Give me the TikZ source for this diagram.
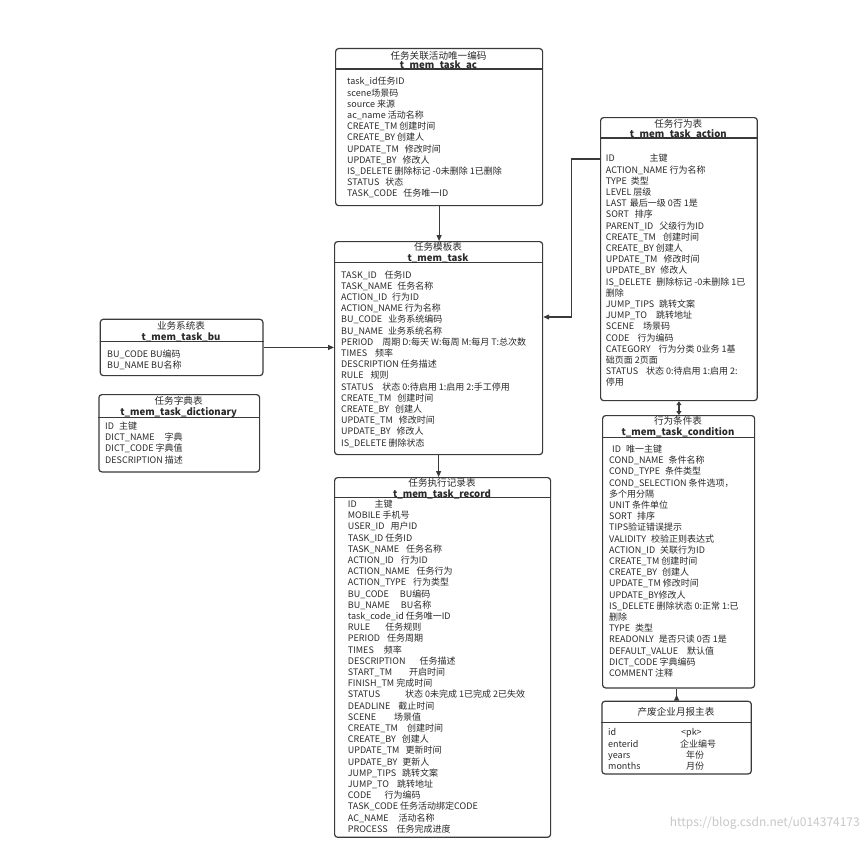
\documentclass[tikz,border=0pt]{standalone}
\usepackage{fontspec}
\setmainfont{Noto Sans CJK SC}
\usetikzlibrary{arrows.meta}
\definecolor{boxc}{HTML}{3A3A3A}
\definecolor{txt}{HTML}{2A2A2A}
\definecolor{wm}{HTML}{C8C8C8}
\newcommand\gp[1]{\hspace*{#1pt}}
\newcommand\fs{\rule{0pt}{8pt}}
\tikzset{
  tbl/.style={draw=boxc, line width=1.2pt, rounded corners=3pt, fill=white, inner sep=0pt, anchor=north west},
  sepl/.style={draw=boxc, line width=1.2pt},
  ttl/.style={font=\fontsize{9.6}{10}\selectfont, text=txt, inner sep=0pt, anchor=base},
  ttlb/.style={font=\fontsize{9.6}{10}\selectfont\bfseries, text=txt, inner sep=0pt, anchor=base},
  bodytxt/.style={font=\fontsize{9}{11.2}\selectfont, text=txt, align=left, inner sep=0pt, anchor=north west},
  conn/.style={draw=boxc, line width=1.2pt, -{Triangle[length=6pt,width=5pt]}},
  conn2/.style={draw=boxc, line width=1.2pt, {Triangle[length=4pt,width=5pt]}-{Triangle[length=4pt,width=5pt]}},
  connr/.style={draw=boxc, line width=1.2pt, {Triangle[reversed,length=6pt,width=5pt]}-}
}
\begin{document}
\begin{tikzpicture}[x=1pt,y=-1pt]
\fill[white] (0,0) rectangle (868,843);
\useasboundingbox (0,0) rectangle (868,843);

% ---- task_ac
\node[tbl, minimum width=207pt, minimum height=157pt] (ac) at (335,48) {};
\draw[sepl] (ac.west |- 0,69) -- (ac.east |- 0,69);
\node[ttl] (ac-t1) at (438.5,59.2) {任务关联活动唯一编码};
\node[ttlb] (ac-t2) at (438.5,68.2) {t\_mem\_task\_ac};
\node[bodytxt] (ac-b) at (347,76.6) {\fs task\_id任务ID\\
scene场景码\\
source 来源\\
ac\_name 活动名称\\
CREATE\_TM 创建时间\\
CREATE\_BY 创建人\\
UPDATE\_TM\gp{6}修改时间\\
UPDATE\_BY\gp{6}修改人\\
IS\_DELETE 删除标记 -0未删除 1已删除\\
STATUS\gp{6}状态\\
TASK\_CODE\gp{6}任务唯一ID};

% ---- task
\node[tbl, minimum width=208pt, minimum height=213pt] (task) at (334,241) {};
\draw[sepl] (task.west |- 0,262.7) -- (task.east |- 0,262.7);
\node[ttl] (task-t1) at (438,250.2) {任务模板表};
\node[ttlb] (task-t2) at (438,261.2) {t\_mem\_task};
\node[bodytxt] (task-b) at (341,269.9) {\fs TASK\_ID\gp{8}任务ID\\
TASK\_NAME\gp{5}任务名称\\
ACTION\_ID\gp{5}行为ID\\
ACTION\_NAME 行为名称\\
BU\_CODE\gp{6}业务系统编码\\
BU\_NAME\gp{5}业务系统名称\\
PERIOD\gp{9}周期 D:每天 W:每周 M:每月 T:总次数\\
TIMES\gp{8}频率\\
DESCRIPTION 任务描述\\
RULE\gp{7}规则\\
STATUS\gp{9}状态 0:待启用 1:启用 2:手工停用\\
CREATE\_TM\gp{6}创建时间\\
CREATE\_BY\gp{6}创建人\\
UPDATE\_TM\gp{6}修改时间\\
UPDATE\_BY\gp{6}修改人\\
IS\_DELETE 删除状态};

% ---- bu
\node[tbl, minimum width=162.6pt, minimum height=56.3pt] (bu) at (99.7,318.7) {};
\draw[sepl] (bu.west |- 0,341.7) -- (bu.east |- 0,341.7);
\node[ttl] (bu-t1) at (181,329.8) {业务系统表};
\node[ttlb] (bu-t2) at (181,340.2) {t\_mem\_task\_bu};
\node[bodytxt] (bu-b) at (107,348.9) {\fs BU\_CODE BU编码\\
BU\_NAME BU名称};

% ---- dictionary
\node[tbl, minimum width=160.7pt, minimum height=77.3pt] (dict) at (98.3,394) {};
\draw[sepl] (dict.west |- 0,417.3) -- (dict.east |- 0,417.3);
\node[ttl] (dict-t1) at (178.6,404.8) {任务字典表};
\node[ttlb] (dict-t2) at (178.6,415.2) {t\_mem\_task\_dictionary};
\node[bodytxt] (dict-b) at (105,421.2) {\fs ID\gp{5}主键\\
DICT\_NAME\gp{10}字典\\
DICT\_CODE 字典值\\
DESCRIPTION 描述};

% ---- record
\node[tbl, minimum width=216pt, minimum height=359.7pt] (record) at (334,477) {};
\draw[sepl] (record.west |- 0,497.7) -- (record.east |- 0,497.7);
\node[ttl] (rec-t1) at (442,486.5) {任务执行记录表};
\node[ttlb] (rec-t2) at (442,497.2) {t\_mem\_task\_record};
\node[bodytxt] (rec-b) at (347.7,499.2) {\fs ID\gp{18}主键\\
MOBILE 手机号\\
USER\_ID\gp{6}用户ID\\
TASK\_ID 任务ID\\
TASK\_NAME\gp{7}任务名称\\
ACTION\_ID\gp{7}行为ID\\
ACTION\_NAME\gp{7}任务行为\\
ACTION\_TYPE\gp{7}行为类型\\
BU\_CODE\gp{11}BU编码\\
BU\_NAME\gp{11}BU名称\\
task\_code\_id 任务唯一ID\\
RULE\gp{15}任务规则\\
PERIOD\gp{7}任务周期\\
TIMES\gp{10}频率\\
DESCRIPTION\gp{14}任务描述\\
START\_TM\gp{17}开启时间\\
FINISH\_TM 完成时间\\
STATUS\gp{25}状态 0未完成 1已完成 2已失效\\
DEADLINE\gp{8}截止时间\\
SCENE\gp{18}场景值\\
CREATE\_TM\gp{9}创建时间\\
CREATE\_BY\gp{6}创建人\\
UPDATE\_TM\gp{6}更新时间\\
UPDATE\_BY\gp{5}更新人\\
JUMP\_TIPS\gp{6}跳转文案\\
JUMP\_TO\gp{8}跳转地址\\
CODE\gp{13}行为编码\\
TASK\_CODE 任务活动绑定CODE\\
AC\_NAME\gp{10}活动名称\\
PROCESS\gp{9}任务完成进度};

% ---- action
\node[tbl, minimum width=156.7pt, minimum height=283pt] (action) at (600,117) {};
\draw[sepl] (action.west |- 0,138) -- (action.east |- 0,138);
\node[ttl] (act-t1) at (678.3,127.2) {任务行为表};
\node[ttlb] (act-t2) at (678.3,137.2) {t\_mem\_task\_action};
\node[bodytxt] (act-b) at (605.7,153.6) {\fs ID\gp{35}主键\\
ACTION\_NAME 行为名称\\
TYPE\gp{4}类型\\
LEVEL 层级\\
LAST\gp{3}最后一级 0否 1是\\
SORT\gp{6}排序\\
PARENT\_ID\gp{6}父级行为ID\\
CREATE\_TM\gp{7}创建时间\\
CREATE\_BY 创建人\\
UPDATE\_TM\gp{6}修改时间\\
UPDATE\_BY\gp{5}修改人\\
IS\_DELETE\gp{5}删除标记 -0未删除 1已\\
删除\\
JUMP\_TIPS\gp{5}跳转文案\\
JUMP\_TO\gp{9}跳转地址\\
SCENE\gp{9}场景码\\
CODE\gp{8}行为编码\\
CATEGORY\gp{8}行为分类 0业务 1基\\
础页面 2页面\\
STATUS\gp{8}状态 0:待启用 1:启用 2:\\
停用};

% ---- condition
\node[tbl, minimum width=152pt, minimum height=272.3pt] (cond) at (602,415) {};
\draw[sepl] (cond.west |- 0,437.3) -- (cond.east |- 0,437.3);
\node[ttl] (cond-t1) at (678,424.5) {行为条件表};
\node[ttlb] (cond-t2) at (678,435.2) {t\_mem\_task\_condition};
\node[bodytxt] (cond-b) at (609,444.2) {\fs\gp{3}ID\gp{5}唯一主键\\
COND\_NAME\gp{5}条件名称\\
COND\_TYPE\gp{5}条件类型\\
COND\_SELECTION 条件选项，\\
多个用分隔\\
UNIT 条件单位\\
SORT\gp{5}排序\\
TIPS验证错误提示\\
VALIDITY\gp{5}校验正则表达式\\
ACTION\_ID\gp{5}关联行为ID\\
CREATE\_TM 创建时间\\
CREATE\_BY\gp{5}创建人\\
UPDATE\_TM 修改时间\\
UPDATE\_BY修改人\\
IS\_DELETE 删除状态 0:正常 1:已\\
删除\\
TYPE\gp{5}类型\\
READONLY\gp{5}是否只读 0否 1是\\
DEFAULT\_VALUE\gp{9}默认值\\
DICT\_CODE 字典编码\\
COMMENT 注释};

% ---- enterprise monthly report
\node[tbl, minimum width=149.4pt, minimum height=72.6pt] (ent) at (601.3,700.7) {};
\draw[sepl] (ent.west |- 0,722.7) -- (ent.east |- 0,722.7);
\node[ttl] (ent-t1) at (676,715.8) {产废企业月报主表};
\node[bodytxt] (ent-b) at (608,727.6) {\fs\makebox[73pt][l]{id}<pk>\\
\makebox[72pt][l]{enterid}企业编号\\
\makebox[78pt][l]{years}年份\\
\makebox[78pt][l]{months}月份};

% ---- connectors
\draw[conn] (ac.south) -- (ac.south |- task.north);
\draw[conn] (task.south) -- (task.south |- record.north);
\draw[conn] (bu.east) -- (bu.east -| task.west);
\draw[conn] (action.west |- 0,159) -- (571.7,159) -- (571.7,317) -- (task.east |- 0,317);
\draw[conn2] (action.south) -- (action.south |- cond.north);
\draw[connr] (ent.north) -- (ent.north |- cond.south);

% ---- watermark
\node[font=\fontsize{12}{12}\selectfont, text=wm, inner sep=0pt, anchor=east] (wmark) at (860,823) {https://blog.csdn.net/u014374173};
\end{tikzpicture}
\end{document}
